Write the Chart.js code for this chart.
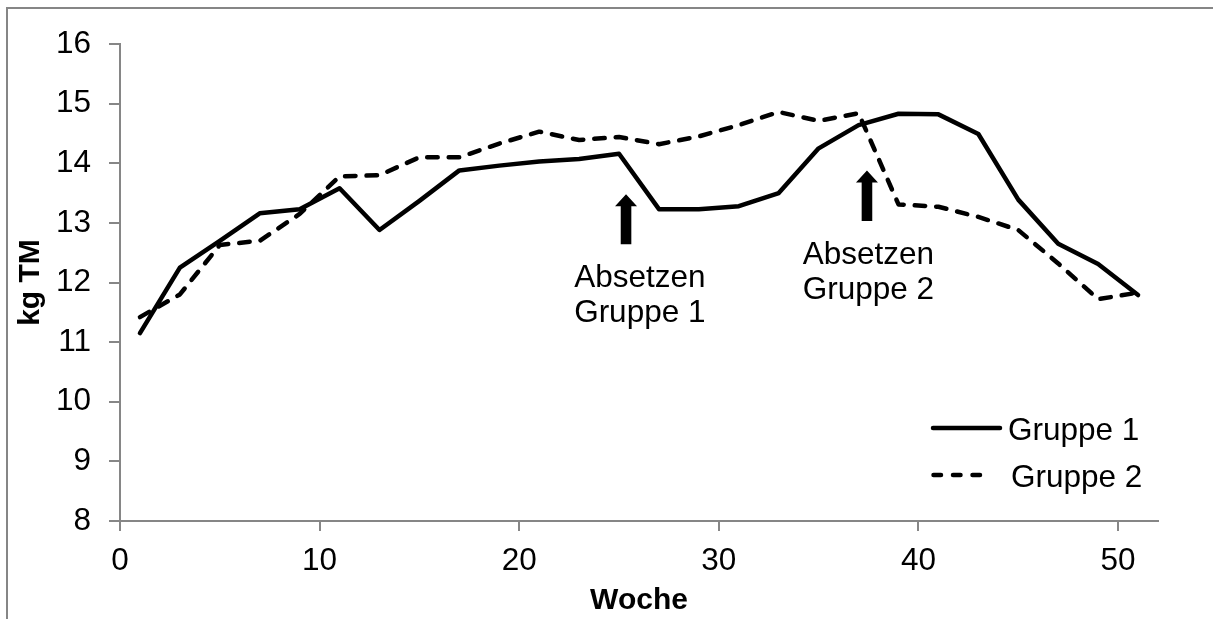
<!DOCTYPE html>
<html>
<head>
<meta charset="utf-8">
<script src="https://cdn.jsdelivr.net/npm/chart.js@4/dist/chart.umd.min.js"></script>
<style>
  html, body { margin: 0; padding: 0; background: #fff; }
  #wrap { position: relative; width: 1213px; height: 619px; }
</style>
</head>
<body>
<div id="wrap"><canvas id="c" width="1213" height="619"></canvas></div>
<script>
// Wochen (Messzeitpunkte)
const weeks = [1, 3, 5, 7, 9, 11, 13, 15, 17, 19, 21, 23, 25, 27, 29, 31, 33, 35, 37, 39, 41, 43, 45, 47, 49, 51];

// Futteraufnahme kg TM je Woche
const gruppe1 = [11.15, 12.25, 12.70, 13.16, 13.23, 13.58, 12.88, 13.37, 13.88, 13.96, 14.03, 14.07, 14.16,
                 13.23, 13.23, 13.28, 13.50, 14.25, 14.64, 14.83, 14.82, 14.49, 13.39, 12.65, 12.31, 11.79];
const gruppe2 = [11.42, 11.80, 12.63, 12.70, 13.15, 13.78, 13.80, 14.10, 14.10, 14.33, 14.53, 14.39, 14.44,
                 14.32, 14.45, 14.64, 14.86, 14.71, 14.84, 13.31, 13.27, 13.10, 12.88, 12.32, 11.72, 11.83];

const seriesNames = ['Gruppe 1', 'Gruppe 2'];
const xTicks = [0, 10, 20, 30, 40, 50];
const yTicks = [8, 9, 10, 11, 12, 13, 14, 15, 16];

// Absetz-Zeitpunkte: Pfeil (Woche, Spitze, Ende) und Beschriftung
const arrowWeek = [25.35, 37.42];
const arrowTip = [13.48, 13.88];
const arrowTail = [12.64, 13.03];
const noteWeek = [22.75, 34.2];
const noteLines = [['Absetzen', 'Gruppe 1'], ['Absetzen', 'Gruppe 2']];

const FONT = '"Liberation Sans", Arial, sans-serif';
const GREY = '#868686';
const TEXT_SIZE = 31.5;

const toPoints = (vals) => weeks.map((w, i) => ({ x: w, y: vals[i] }));

// Pfeile und Texte zum Absetzen, Rahmen und Legende
const notesPlugin = {
  id: 'notes',
  afterDatasetsDraw(chart) {
    const { ctx, scales: { x, y } } = chart;
    ctx.save();
    ctx.fillStyle = '#000';
    arrowWeek.forEach((w, i) => {
      const cx = x.getPixelForValue(w);
      const tipY = y.getPixelForValue(arrowTip[i]);
      const tailY = y.getPixelForValue(arrowTail[i]);
      const headH = 12, headW = 11, shaftW = 5.3;
      ctx.beginPath();
      ctx.moveTo(cx, tipY);
      ctx.lineTo(cx + headW, tipY + headH);
      ctx.lineTo(cx + shaftW, tipY + headH);
      ctx.lineTo(cx + shaftW, tailY);
      ctx.lineTo(cx - shaftW, tailY);
      ctx.lineTo(cx - shaftW, tipY + headH);
      ctx.lineTo(cx - headW, tipY + headH);
      ctx.closePath();
      ctx.fill();

      ctx.font = TEXT_SIZE + 'px ' + FONT;
      ctx.textAlign = 'left';
      ctx.textBaseline = 'alphabetic';
      const left = x.getPixelForValue(noteWeek[i]);
      const base = tailY + 42.5;
      noteLines[i].forEach((t, k) => ctx.fillText(t, left, base + k * 35.5));
    });
    ctx.restore();
  },
  afterDraw(chart) {
    const { ctx } = chart;
    ctx.save();
    // Rahmen
    ctx.strokeStyle = GREY;
    ctx.lineWidth = 2;
    ctx.beginPath();
    ctx.moveTo(7, 619);
    ctx.lineTo(7, 8);
    ctx.lineTo(1213, 8);
    ctx.stroke();

    // Legende
    const rows = [428, 475];
    chart.data.datasets.forEach((ds, i) => {
      const yy = rows[i];
      ctx.strokeStyle = ds.borderColor;
      ctx.lineWidth = ds.borderWidth;
      ctx.lineCap = 'round';
      ctx.setLineDash(i === 0 ? [] : [7.5, 12]);
      ctx.beginPath();
      if (i === 0) { ctx.moveTo(933, yy); ctx.lineTo(1000, yy); }
      else { ctx.moveTo(933.5, yy); ctx.lineTo(980, yy); }
      ctx.stroke();
      ctx.setLineDash([]);
      ctx.fillStyle = '#000';
      ctx.font = TEXT_SIZE + 'px ' + FONT;
      ctx.textAlign = 'left';
      ctx.textBaseline = 'alphabetic';
      ctx.fillText(ds.label, i === 0 ? 1008 : 1011, yy + 12);
    });
    ctx.restore();
  }
};

new Chart(document.getElementById('c'), {
  type: 'line',
  data: {
    datasets: [
      {
        label: seriesNames[0],
        data: toPoints(gruppe1),
        borderColor: '#000',
        borderWidth: 4.5,
        borderJoinStyle: 'round',
        borderCapStyle: 'round',
        pointRadius: 0,
        tension: 0,
        fill: false
      },
      {
        label: seriesNames[1],
        data: toPoints(gruppe2),
        borderColor: '#000',
        borderWidth: 4.5,
        borderDash: [10.5, 11],
        borderJoinStyle: 'round',
        borderCapStyle: 'round',
        pointRadius: 0,
        tension: 0,
        fill: false
      }
    ]
  },
  options: {
    responsive: false,
    animation: false,
    layout: { padding: { top: 44, right: 55, left: 0, bottom: 0 } },
    plugins: {
      legend: { display: false },
      tooltip: { enabled: false }
    },
    scales: {
      x: {
        type: 'linear',
        min: 0,
        max: 52,
        afterFit: (s) => { s.height = 98; },
        afterBuildTicks: (s) => { s.ticks = xTicks.map(v => ({ value: v })); },
        ticks: { color: '#000', font: { family: FONT, size: TEXT_SIZE }, padding: 11, includeBounds: false },
        grid: { drawOnChartArea: false, drawTicks: true, tickLength: 10, color: GREY, lineWidth: 2 },
        border: { color: GREY, width: 2 },
        title: { display: true, text: 'Woche', color: '#000', font: { family: FONT, size: 30, weight: 'bold' }, padding: { top: 0, bottom: 0 } }
      },
      y: {
        min: 8,
        max: 16,
        afterFit: (s) => { s.width = 120; },
        afterBuildTicks: (s) => { s.ticks = yTicks.map(v => ({ value: v })); },
        ticks: { color: '#000', font: { family: FONT, size: TEXT_SIZE }, padding: 18 },
        grid: { drawOnChartArea: false, drawTicks: true, tickLength: 11, color: GREY, lineWidth: 2 },
        border: { color: GREY, width: 2 },
        title: { display: true, text: 'kg TM', color: '#000', font: { family: FONT, size: 30, weight: 'bold' }, padding: { top: 13, bottom: 0 } }
      }
    }
  },
  plugins: [notesPlugin]
});
</script>
</body>
</html>
